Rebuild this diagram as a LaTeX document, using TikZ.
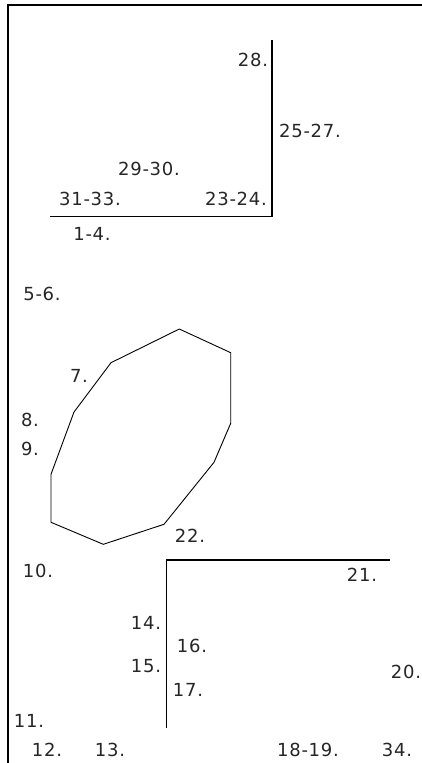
\documentclass[tikz,border=0pt]{standalone}
\usepackage{fontspec}
\setmainfont[LetterSpace=4]{DejaVu Sans}
\usepackage{tikz}
\usetikzlibrary{positioning}

\begin{document}
\begin{tikzpicture}[
  x=1pt,
  y=-1pt,
  frame/.style={line width=1.2pt},
  wall/.style={line width=1.1pt},
  outline/.style={line width=0.9pt, line join=miter},
  num/.style={inner sep=0pt, anchor=center, text=black!85, font=\fontsize{18}{20}\selectfont}
]
\useasboundingbox (0,0) rectangle (422,763);
\draw[frame] (8,763) -- (8,5) -- (422,5);

% upper corner
\coordinate (uTop) at (272,40);
\coordinate (uCorner) at (272,216.5);
\coordinate (uLeft) at (50,216.5);
\draw[wall] (uTop) -- (uCorner) -- (uLeft);

% polygon
\draw[outline] (179.3,329) -- (230.7,352.7) -- (230.7,423.3) -- (214,462.3)
  -- (164,524.3) -- (103.3,544.3) -- (51,522.3) -- (51,474.3)
  -- (74,412) -- (111,362.7) -- cycle;

% lower corner
\coordinate (lRight) at (390,560);
\coordinate (lCorner) at (166.7,560);
\coordinate (lBottom) at (166.7,728.3);
\draw[wall] (lRight) -- (lCorner) -- (lBottom);

\node[num] (n28) at (253,60) {28.};
\node[num] (n25) at (310,131) {25-27.};
\node[num] (n29) at (149,169) {29-30.};
\node[num] (n31) at (90,199) {31-33.};
\node[num] (n23) at (236,199) {23-24.};
\node[num] (n1) at (92,234) {1-4.};
\node[num] (n5) at (42,294) {5-6.};
\node[num] (n7) at (79,376) {7.};
\node[num] (n8) at (30,420) {8.};
\node[num] (n9) at (30,449) {9.};
\node[num] (n22) at (190,536) {22.};
\node[num] (n10) at (38,571) {10.};
\node[num] (n21) at (362,575) {21.};
\node[num] (n14) at (146,623) {14.};
\node[num] (n16) at (192,646) {16.};
\node[num] (n15) at (146,666) {15.};
\node[num] (n20) at (406,672) {20.};
\node[num] (n17) at (188,690) {17.};
\node[num] (n11) at (29,721) {11.};
\node[num] (n12) at (47,750) {12.};
\node[num] (n13) at (110,750) {13.};
\node[num] (n18) at (308,750) {18-19.};
\node[num] (n34) at (397,750) {34.};
\end{tikzpicture}
\end{document}
